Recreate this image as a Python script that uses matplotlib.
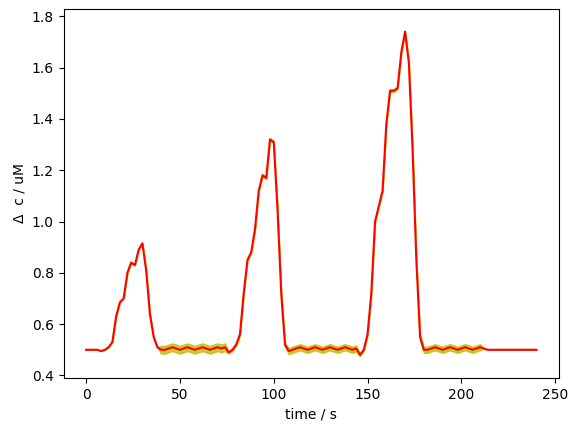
import numpy as np
import matplotlib
matplotlib.use("Agg")
import matplotlib.pyplot as plt

time = np.arange(0, 242, 2)

mean = [0.50, 0.50, 0.50, 0.50, 0.495, 0.50, 0.51, 0.53, 0.63, 0.685,
        0.70, 0.80, 0.84, 0.83, 0.89, 0.915, 0.81, 0.64, 0.55, 0.51,
        0.50, 0.50, 0.505, 0.51, 0.505, 0.50, 0.505, 0.51, 0.505, 0.50,
        0.505, 0.51, 0.505, 0.50, 0.505, 0.51, 0.505, 0.51, 0.49, 0.50,
        0.52, 0.56, 0.72, 0.85, 0.88, 0.97, 1.12, 1.18, 1.17, 1.32,
        1.31, 1.05, 0.72, 0.52, 0.495, 0.50, 0.505, 0.51, 0.505, 0.50,
        0.505, 0.51, 0.505, 0.50, 0.505, 0.51, 0.505, 0.50, 0.505, 0.51,
        0.505, 0.50, 0.505, 0.48, 0.50, 0.56, 0.72, 1.00, 1.06, 1.12,
        1.38, 1.51, 1.51, 1.52, 1.66, 1.74, 1.62, 1.28, 0.85, 0.55,
        0.50, 0.50, 0.505, 0.51, 0.505, 0.50, 0.505, 0.51, 0.505, 0.50,
        0.505, 0.51, 0.505, 0.50, 0.505, 0.51, 0.505, 0.50, 0.50, 0.50,
        0.50, 0.50, 0.50, 0.50, 0.50, 0.50, 0.50, 0.50, 0.50, 0.50,
        0.50]

spread = [0.0] * 20 + [0.015] * 18 + [0.005] * 15 + [0.008] + [0.012] * 19 + \
         [0.005] * 16 + [0.012] * 17 + [0.0] * 15

mean = np.array(mean)
spread = np.array(spread)

fig, ax = plt.subplots(figsize=(5.78, 4.32), dpi=100)
ax.fill_between(time, mean - spread, mean + spread, color="y", alpha=0.8)
ax.plot(time, mean, color="red")
ax.set_xlabel("time / s")
ax.set_ylabel("Δ  c / uM")
ax.set_ylim(0.39, 1.83)
plt.subplots_adjust(left=0.11, right=0.967, bottom=0.125, top=0.98)
plt.savefig("out.png")
